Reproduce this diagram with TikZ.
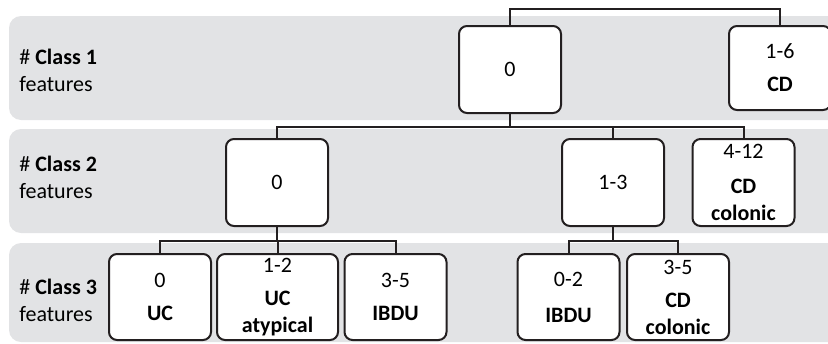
\documentclass[tikz,border=0pt]{standalone}
\usepackage{fontspec}
\setmainfont{Carlito}
\usepackage{xcolor}
\usetikzlibrary{positioning, calc}

\definecolor{bandgray}{RGB}{226,227,229}
\definecolor{inkgray}{RGB}{35,31,32}

\tikzset{
	band/.style={fill=bandgray, rounded corners=6pt},
	leaf/.style={draw=inkgray, line width=1pt, rounded corners=4pt, fill=white,
		minimum width=51pt, minimum height=43pt, align=center, inner sep=1pt,
		font=\fontsize{11}{13.5}\selectfont},
	rowlabel/.style={anchor=west, align=left, inner sep=0pt, font=\fontsize{11}{13.5}\selectfont},
	link/.style={draw=inkgray, line width=1pt}
}

\begin{document}
\begin{tikzpicture}[x=0.5pt, y=-0.5pt]
	\useasboundingbox (0,0) rectangle (828,343);
	% grey rows
	\fill[band] (9,16) rectangle (850,120);
	\fill[band] (9,129) rectangle (850,233);
	\fill[band] (9,243) rectangle (850,342);

	\node[rowlabel] (cls1) at (19,70) {\# \textbf{Class 1}\\features};
	\node[rowlabel] (cls2) at (19,177) {\# \textbf{Class 2}\\features};
	\node[rowlabel] (cls3) at (19,300) {\# \textbf{Class 3}\\features};

	% level 1
	\node[leaf, minimum height=43.5pt] (top0) at (510,69.5) {0};
	\node[leaf, minimum height=42pt] (topcd) at (780,68) {1-6\\[3pt]\textbf{CD}};

	% level 2
	\node[leaf, minimum height=43.5pt] (mid0) at (277,182.5) {0};
	\node[leaf, minimum height=43.5pt] (mid13) at (613,182.5) {1-3};
	\node[leaf, minimum height=43.5pt] (midcd) at (743.5,182.5) {4-12\\[4pt]\textbf{CD}\\\textbf{colonic}};

	% level 3
	\node[leaf] (uc) at (160,297) {0\\[3pt]\textbf{UC}};
	\node[leaf, minimum width=60.5pt] (ucat) at (277.5,297) {1-2\\[3pt]\textbf{UC}\\\textbf{atypical}};
	\node[leaf] (ibdu) at (395.5,297) {3-5\\[3pt]\textbf{IBDU}};
	\node[leaf] (ibdutwo) at (568.5,297) {0-2\\[4.5pt]\textbf{IBDU}};
	\node[leaf] (cdcol) at (678,297) {3-5\\[3pt]\textbf{CD}\\\textbf{colonic}};

	% connectors
	\draw[link] (top0.north) -- ++(0,-16) -| (topcd.north);
	\draw[link] (top0.south) -- ++(0,13) coordinate (j1);
	\draw[link] (mid0.north) |- (j1) -| (midcd.north);
	\draw[link] (mid13.north) -- (mid13.north |- j1);

	\draw[link] (mid0.south) -- ++(0,14) coordinate (j2);
	\draw[link] (uc.north) |- (j2) -| (ibdu.north);
	\draw[link] (ucat.north) -- (ucat.north |- j2);

	\draw[link] (mid13.south) -- ++(0,14) coordinate (j3);
	\draw[link] (ibdutwo.north) |- (j3) -| (cdcol.north);
\end{tikzpicture}
\end{document}
